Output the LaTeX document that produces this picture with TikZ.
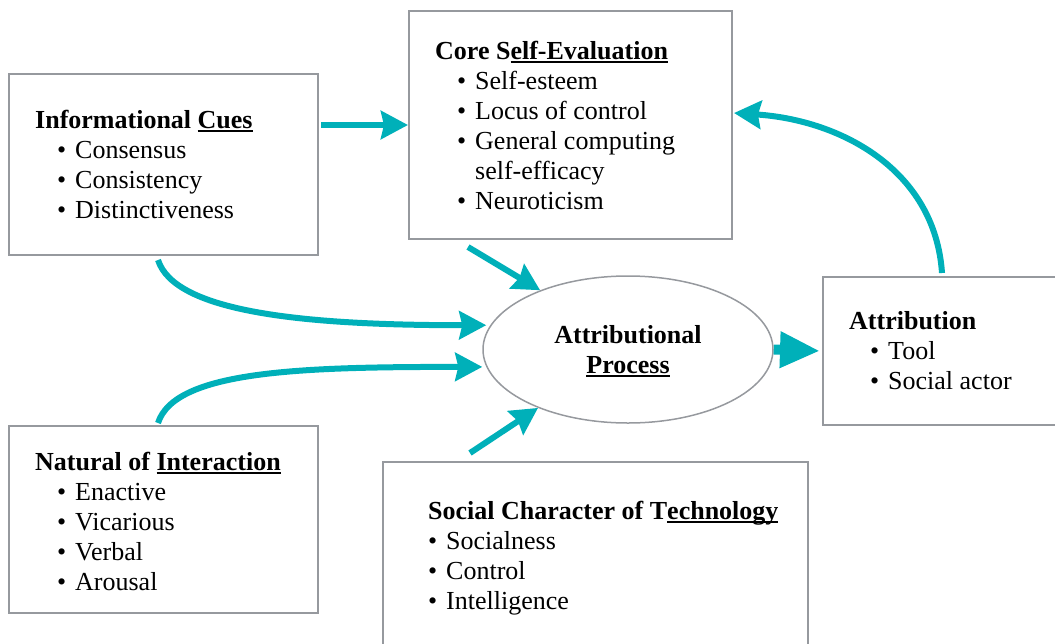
\documentclass[tikz,border=0pt]{standalone}
\usepackage{fontspec}
\setmainfont{Liberation Serif}
\usetikzlibrary{shapes.geometric,arrows.meta,calc}

\definecolor{flowteal}{RGB}{0,176,185}
\definecolor{boxgray}{RGB}{150,153,158}

% underline drawn as a rule under the word (adds no depth to the line)
\newcommand{\ulx}[1]{\setbox0\hbox{#1}\rlap{\smash{\rule[-3.8pt]{\wd0}{1.8pt}}}\box0}
% bullet line: #1 = indent of the bullet, #2 = item text
\newcommand{\bul}[2]{\par\hspace*{#1}\makebox[18pt][l]{\textbullet}#2}
% text block set at 26pt on a 30pt line pitch
\newcommand{\blocktext}[1]{\parbox[t]{420pt}{\raggedright\fontsize{26}{30}\selectfont #1}}

\begin{document}
\begin{tikzpicture}[x=1pt,y=-1pt,
  box/.style={draw=boxgray, line width=2pt, fill=white, rectangle, inner sep=0pt, anchor=north west},
  label/.style={anchor=base west, inner sep=0pt, font=\fontsize{26}{30}\selectfont},
  flow/.style={draw=flowteal, line width=6pt,
    -{Stealth[length=27pt,width=28pt,inset=3pt,flowteal]}},
  bigflow/.style={draw=flowteal, line width=10pt,
    -{Triangle[length=40pt,width=34pt,flowteal]}}
]
\useasboundingbox (0,0) rectangle (1055,643);

% boxes
\node[box, minimum width=309pt, minimum height=181pt] (cues) at (8,73) {};
\node[box, minimum width=323pt, minimum height=228pt] (core) at (408,10) {};
\node[box, minimum width=250pt, minimum height=148pt] (attr) at (822,276) {};
\node[box, minimum width=309pt, minimum height=187pt] (nat) at (8,425) {};
\node[box, minimum width=425pt, minimum height=200pt] (soc) at (382,461) {};

% central process
\node[draw=boxgray, line width=1.5pt, ellipse, minimum width=290pt, minimum height=147pt,
      inner sep=0pt, align=center, font=\fontsize{26}{30}\selectfont\bfseries]
      (proc) at (628,349.5) {Attributional\\\ulx{Process}};

% box texts
\node[label] (cuestext) at (35,128) {\blocktext{%
  \textbf{Informational \ulx{Cues}}%
  \bul{22pt}{Consensus}\bul{22pt}{Consistency}\bul{22pt}{Distinctiveness}}};

\node[label] (coretext) at (435,59) {\blocktext{%
  \textbf{Core S\ulx{elf-Evaluation}}%
  \bul{22pt}{Self-esteem}\bul{22pt}{Locus of control}%
  \bul{22pt}{General computing}\par\hspace*{40pt}self-efficacy%
  \bul{22pt}{Neuroticism}}};

\node[label] (attrtext) at (849,329) {\blocktext{%
  \textbf{Attribution}%
  \bul{21pt}{Tool}\bul{21pt}{Social actor}}};

\node[label] (nattext) at (35,470) {\blocktext{%
  \textbf{Natural of \ulx{Interaction}}%
  \bul{22pt}{Enactive}\bul{22pt}{Vicarious}\bul{22pt}{Verbal}\bul{22pt}{Arousal}}};

\node[label] (soctext) at (428,519) {\blocktext{%
  \textbf{Social Character of T\ulx{echnology}}%
  \bul{0pt}{Socialness}\bul{0pt}{Control}\bul{0pt}{Intelligence}}};

% connectors
\draw[flow, shorten <=2pt] (cues.east |- core.west) -- (core.west);
\draw[flow] ($(core.south west)+(60,7)$) -- (proc.146.6);
\draw[flow] ($(soc.north west)+(88,-8)$) -- (proc.213.4);
\draw[flow, shorten >=4pt] ($(cues.south west)+(150,4)$)
  .. controls +(17,53) and +(-183,0) .. (proc.170.9);
\draw[flow, shorten >=4pt] ($(nat.north west)+(150,-2)$)
  .. controls +(17,-53) and +(-183,0) .. (proc.187.5);
\draw[bigflow, shorten >=2pt] (proc.east) -- (attr.west);
\draw[flow] ($(attr.north west)+(120,-3)$)
  .. controls +(-7,-103) and +(107,7) .. ($(core.north east)+(1,103)$);
\end{tikzpicture}
\end{document}
